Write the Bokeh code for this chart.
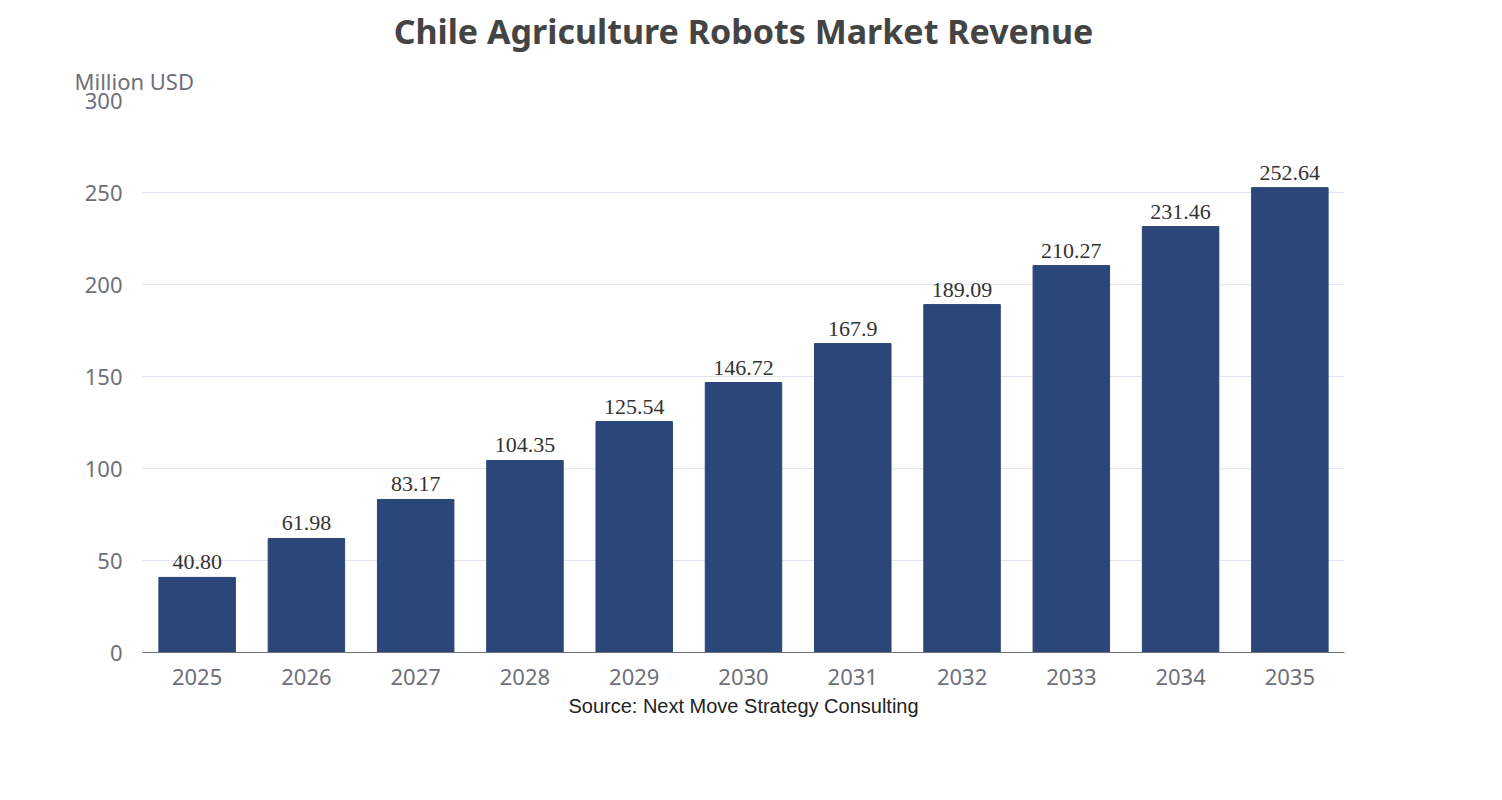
from bokeh.plotting import figure
from bokeh.models import ColumnDataSource, Title, FixedTicker
from bokeh.embed import file_html
from bokeh.resources import INLINE

years = ["2025","2026","2027","2028","2029","2030","2031","2032","2033","2034","2035"]
values = [40.80,61.98,83.17,104.35,125.54,146.72,167.9,189.09,210.27,231.46,252.64]
labels = ["40.80","61.98","83.17","104.35","125.54","146.72","167.9","189.09","210.27","231.46","252.64"]

src = ColumnDataSource(dict(x=years, y=values, t=labels))
p = figure(x_range=years, y_range=(0,300), width=1486, height=784,
           output_backend="svg", toolbar_location=None,
           min_border_left=142, min_border_right=142, min_border_bottom=132, min_border_top=40)
p.vbar(x="x", top="y", width=0.7, source=src, color="#2b4679")
p.text(x="x", y="y", text="t", source=src, text_align="center", text_baseline="bottom",
       y_offset=-8, text_font_size="22px", text_color="#333333", text_font="Noto Sans")
p.outline_line_color=None
p.xgrid.grid_line_color=None
p.ygrid.grid_line_color="#e0e6f1"
p.yaxis.ticker=FixedTicker(ticks=[0,50,100,150,200,250,300])
p.yaxis.axis_line_color=None
p.yaxis.major_tick_line_color=None
p.yaxis.minor_tick_line_color=None
p.xaxis.major_tick_line_color=None
p.xaxis.axis_line_color="#6e7079"
p.x_range.range_padding=0
for ax in (p.xaxis, p.yaxis):
    ax.major_label_text_font_size="22px"
    ax.major_label_text_color="#6e7079"
    ax.major_label_text_font="Noto Sans"
p.yaxis.major_label_standoff=14
p.xaxis.major_label_standoff=10
p.add_layout(Title(text="Million USD", text_font_size="22px", text_color="#6e7079",
                   text_font="Noto Sans", text_font_style="normal", align="left", offset=-68), "above")
p.add_layout(Title(text="Chile Agriculture Robots Market Revenue", text_font_size="34px",
                   text_color="#444444", text_font="Noto Sans", text_font_style="bold", align="center"), "above")
p.add_layout(Title(text="Source: Next Move Strategy Consulting", text_font_size="20px",
                   text_color="#222222", text_font="Liberation Sans", text_font_style="normal",
                   align="center", offset=-150), "below")
open("out.html","w").write(file_html(p, INLINE))
